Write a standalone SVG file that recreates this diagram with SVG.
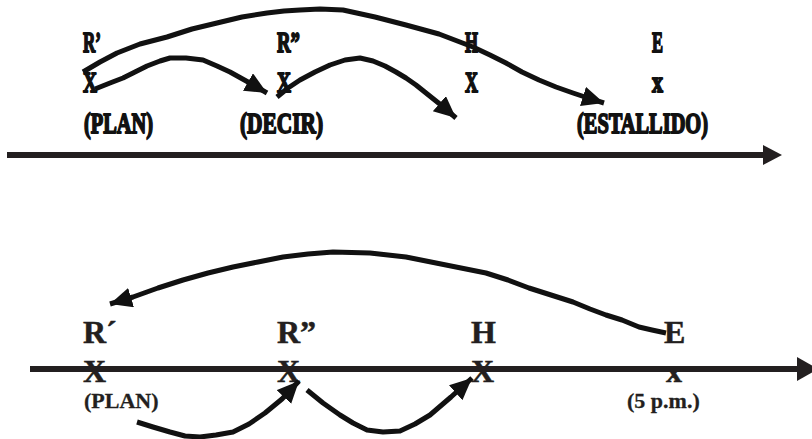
<svg xmlns="http://www.w3.org/2000/svg" width="812" height="439" viewBox="0 0 812 439">
<style>
.c{font-family:"Liberation Serif","Times New Roman",serif;font-weight:bold;font-size:29px;fill:#111;stroke:#111;stroke-width:1.8;stroke-linejoin:round}
.b{font-family:"Liberation Serif","Times New Roman",serif;font-weight:bold;font-size:32px;fill:#231f20;stroke:#231f20;stroke-width:0.5}
.s{font-family:"Liberation Serif","Times New Roman",serif;font-weight:bold;font-size:22px;fill:#231f20;stroke:#231f20;stroke-width:0.3}
.arc{fill:none;stroke:#111;stroke-width:5;stroke-linejoin:round;stroke-linecap:butt}
.axis{stroke:#231f20;stroke-width:6}
</style>
<defs>
<marker id="ah" markerUnits="userSpaceOnUse" markerWidth="24" markerHeight="22" refX="22" refY="10" orient="auto">
<path d="M0,0 L22,10 L0,20 Z" fill="#111"/>
</marker>
</defs>
<rect width="812" height="439" fill="#fff"/>

<g id="top-axis">
<line class="axis" x1="7" y1="155" x2="765" y2="155"/>
<path d="M763,145 L782,155 L763,165 Z" fill="#231f20"/>
</g>

<g id="top-R1">
<text class="c" x="83" y="52" textLength="18" lengthAdjust="spacingAndGlyphs">R’</text>
<text class="c" x="83" y="92" textLength="14" lengthAdjust="spacingAndGlyphs">X</text>
<text class="c" x="84" y="133" textLength="69" lengthAdjust="spacingAndGlyphs">(PLAN)</text>
</g>
<g id="top-R2">
<text class="c" x="277" y="52" textLength="23" lengthAdjust="spacingAndGlyphs">R”</text>
<text class="c" x="277" y="92" textLength="14" lengthAdjust="spacingAndGlyphs">X</text>
<text class="c" x="240" y="133" textLength="83" lengthAdjust="spacingAndGlyphs">(DECIR)</text>
</g>
<g id="top-H">
<text class="c" x="465" y="52" textLength="13" lengthAdjust="spacingAndGlyphs">H</text>
<text class="c" x="465" y="92" textLength="13" lengthAdjust="spacingAndGlyphs">X</text>
</g>
<g id="top-E">
<text class="c" x="652" y="52" textLength="11" lengthAdjust="spacingAndGlyphs">E</text>
<text class="c" x="652" y="92" textLength="11" lengthAdjust="spacingAndGlyphs">x</text>
<text class="c" x="577" y="133" textLength="131" lengthAdjust="spacingAndGlyphs">(ESTALLIDO)</text>
</g>

<g id="bottom-axis">
<line class="axis" x1="30" y1="369" x2="800" y2="369"/>
<path d="M797,357 L818,369 L797,381 Z" fill="#231f20"/>
</g>

<g id="bot-R1">
<text class="b" x="83" y="343">R´</text>
<text class="b" x="83" y="382">X</text>
<text class="s" x="84" y="408">(PLAN)</text>
</g>
<g id="bot-R2">
<text class="b" x="277" y="343">R”</text>
<text class="b" x="277" y="382">X</text>
</g>
<g id="bot-H">
<text class="b" x="471" y="343">H</text>
<text class="b" x="471" y="382">X</text>
</g>
<g id="bot-E">
<text class="b" x="664" y="343">E</text>
<text class="b" x="666" y="382">x</text>
<text class="s" x="627" y="408">(5 p.m.)</text>
</g>

<g id="connectors">
<polyline class="arc" marker-end="url(#ah)" points="95,89 110,83 123,78 135,72 147,66 160,61 170,58 186,58 203,60 217,66 230,72 248,82 267,93"/>
<polyline class="arc" marker-end="url(#ah)" points="83,72 100,62 117,53 140,44 167,37 192,29 217,23 242,17 267,13 284,11 300,10 320,9 343,10 375,17 406,25 439,34 473,47 490,55 506,63 522,72 539,80 556,87 573,93 588,98 604,103"/>
<polyline class="arc" marker-end="url(#ah)" points="277,97 288,88 300,80 315,72 330,65 345,60 360,58 373,61 385,66 396,72 406,78 416,85 426,93 441,105 456,118"/>
<polyline class="arc" marker-end="url(#ah)" points="666,333 652,330 639,327 622,320 606,315 590,309 573,302 551,295 529,288 508,280 486,273 446,265 406,257 370,253 333,252 308,254 283,257 258,262 233,267 208,273 183,280 158,288 133,297 110,304"/>
<polyline class="arc" marker-end="url(#ah)" points="137,422 153,427 170,432 185,436 200,437 216,435 233,432 249,424 265,413 282,399 299,381"/>
<polyline class="arc" marker-end="url(#ah)" points="307,390 323,403 340,415 353,423 367,430 383,432 400,431 415,424 430,415 451,397 472,378"/>
</g>
</svg>
